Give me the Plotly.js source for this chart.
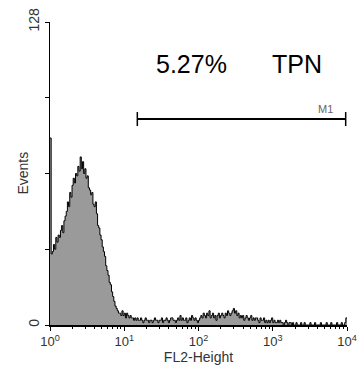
<!DOCTYPE html>
<html>
<head>
<meta charset="utf-8">
<script src="https://cdn.plot.ly/plotly-3.0.1.min.js"></script>
<style>html,body{margin:0;padding:0;background:#fff;}#chart{width:360px;height:374px;}</style>
</head>
<body>
<div id="chart"></div>
<script>
// Histogram counts per channel (256 channels spanning 10^0 .. 10^4)
const counts = [
  79,
  30,31,34,32,37,35,38,37,40,42,
  39,44,46,48,52,50,56,54,59,62,
  60,64,63,67,65,71,66,69,64,66,
  62,63,58,57,55,56,51,50,52,47,
  42,41,38,36,33,31,29,25,23,21,
  18,17,14,12,10,8,7,6,5,5,
  4,6,4,5,3,5,4,3,4,3,
  3,2,3,
  2,3,2,2,3,2,1,2,3,2,2,1,2,
  2,1,2,3,2,2,1,2,2,3, 1,2,2,3,2,1,2,3,3,2, 2,1,2,3,2,4,2,3,2,2, 3,1,2,3,2,4,3,2,3,2, 1,2,3,
  4,3,5,4,3,5,4,6,3,4, 5,3,4,2,4,5,3,4,5,4, 3,5,4,6,5,4,5,6,7,5, 6,4,5,3,4,
  3,4,2,3,4,3,2,3,4,2,3,2,3,3,2,1,3,2,2,3,1,
  2,1,2,1,2,3,1,2,1,1,2,1,2,1,1,0,1,2,1,0,1,1,0,
  1,0,0,1,0,0,0,1,0,0, 1,0,0,0,0,1,0,0,0,1, 0,0,0,0,1,0,0,0,0,1, 0,0,0,1,0,0,0,0,1,0, 0,0,1,0,0,1,
  3
];
const nChannels = 256;
const decades = 4;
const xTickVals = [1, 10, 100, 1000, 10000];
const xTickText = ['10<sup>0</sup>', '10<sup>1</sup>', '10<sup>2</sup>', '10<sup>3</sup>', '10<sup>4</sup>'];
const yTickVals = [0, 32, 64, 96, 128];
const yTickText = ['0', '', '', '', '128'];
const markerName = 'M1';
const markerRange = [15, 9600];
const markerLevel = 87;
const percentText = '5.27%';
const sampleText = 'TPN';
const xTitle = 'FL2-Height';
const yTitle = 'Events';

// channel -> FL2 value (log channel scale)
const xs = counts.map((_, i) => Math.pow(10, i * decades / nChannels));
const ys = counts.slice();
xs.push(Math.pow(10, decades));
ys.push(counts[counts.length - 1]);

const minorVals = [];
for (let d = 0; d < decades; d++) {
  for (let k = 2; k <= 9; k++) minorVals.push(k * Math.pow(10, d));
}

const font = 'Liberation Sans, Arial, sans-serif';

const traces = [
  {
    x: xs, y: ys, type: 'scatter', mode: 'lines',
    line: {shape: 'hv', color: '#000', width: 1},
    fill: 'tozeroy', fillcolor: '#9a9a9a',
    hoverinfo: 'skip'
  },
  {
    x: markerRange, y: [markerLevel, markerLevel], type: 'scatter', mode: 'lines+markers',
    line: {color: '#000', width: 2},
    marker: {symbol: 'line-ns-open', size: 10, color: '#000', line: {width: 1.5, color: '#000'}},
    hoverinfo: 'skip'
  }
];

const layout = {
  width: 360, height: 374,
  margin: {l: 50, r: 13, t: 22, b: 49},
  paper_bgcolor: '#fff', plot_bgcolor: '#fff',
  showlegend: false,
  font: {family: font, color: '#333', size: 12},
  xaxis: {
    type: 'log', range: [0, decades],
    tickmode: 'array', tickvals: xTickVals, ticktext: xTickText,
    ticks: 'outside', ticklen: 4, tickwidth: 1, tickcolor: '#000',
    showline: true, linecolor: '#000', linewidth: 1.5,
    showgrid: false, zeroline: false,
    tickfont: {size: 13, color: '#333'},
    minor: {tickmode: 'array', tickvals: minorVals, ticks: 'outside', ticklen: 2, tickcolor: '#000', showgrid: false},
    title: {text: xTitle, font: {size: 14, color: '#333'}, standoff: 2}
  },
  yaxis: {
    range: [0, 128],
    tickmode: 'array', tickvals: yTickVals, ticktext: yTickText,
    tickangle: -90,
    ticks: 'outside', ticklen: 4, tickwidth: 1, tickcolor: '#000',
    showline: true, linecolor: '#000', linewidth: 1.5,
    showgrid: false, zeroline: false,
    tickfont: {size: 14, color: '#333'}
  },
  annotations: [
    {xref: 'paper', yref: 'paper', x: -0.094, y: 0.5, text: yTitle, showarrow: false, textangle: -90,
     font: {size: 14, color: '#333', family: font}, xanchor: 'center', yanchor: 'middle'},
    {xref: 'paper', yref: 'paper', x: 0.478, y: 0.861, text: percentText, showarrow: false,
     font: {size: 25, color: '#000', family: font}, xanchor: 'center', yanchor: 'middle'},
    {xref: 'paper', yref: 'paper', x: 0.832, y: 0.861, text: sampleText, showarrow: false,
     font: {size: 25, color: '#000', family: font}, xanchor: 'center', yanchor: 'middle'},
    {xref: 'paper', yref: 'paper', x: 0.926, y: 0.714, text: markerName, showarrow: false,
     font: {size: 11, color: '#666', family: font}, xanchor: 'center', yanchor: 'middle'}
  ]
};

Plotly.newPlot('chart', traces, layout, {staticPlot: true, displayModeBar: false});
</script>
</body>
</html>
